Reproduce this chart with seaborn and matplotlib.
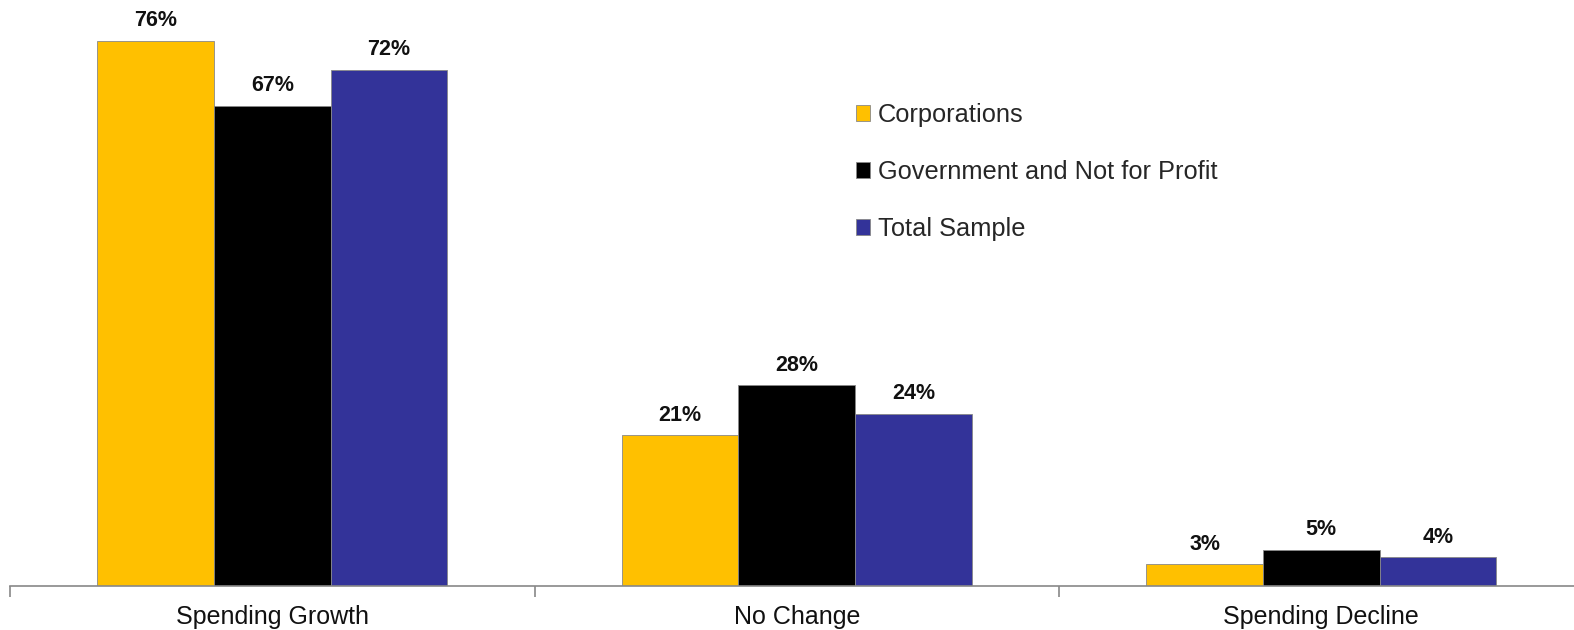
import matplotlib
matplotlib.use("Agg")
import matplotlib.pyplot as plt
import seaborn as sns
import pandas as pd
import numpy as np

categories = ["Spending Growth", "No Change", "Spending Decline"]
series = ["Corporations", "Government and Not for Profit", "Total Sample"]
corporations = [76, 21, 3]
government = [67, 28, 5]
total_sample = [72, 24, 4]
colors = ["#FFC000", "#000000", "#333399"]

rows = []
for s, vals in zip(series, [corporations, government, total_sample]):
    for c, v in zip(categories, vals):
        rows.append({"Category": c, "Series": s, "Value": v})
df = pd.DataFrame(rows)

sns.set_style("white")
plt.rcParams["font.family"] = ["Liberation Sans", "DejaVu Sans"]

fig = plt.figure(figsize=(15.74, 6.30), dpi=100)
ax = fig.add_axes([10 / 1574, 1 - 586 / 630, 1573.5 / 1574, (586 - 12.4) / 630])

sns.barplot(data=df, x="Category", y="Value", hue="Series", order=categories,
            hue_order=series, palette=colors, width=0.667, gap=0, saturation=1,
            edgecolor="#888888", linewidth=0.6, ax=ax, legend=True)

ax.set_ylim(0, 80)
ax.set_xlim(-0.5, 2.5)
ax.set_xlabel("")
ax.set_ylabel("")
ax.set_yticks([])
for sp in ["top", "right", "left"]:
    ax.spines[sp].set_visible(False)
ax.spines["bottom"].set_color("#888888")
ax.spines["bottom"].set_linewidth(1.2)

ax.set_xticks([0, 1, 2])
ax.set_xticklabels(categories, fontsize=18, color="#111111")
ax.set_xticks([-0.5, 0.5, 1.5, 2.5], minor=True)
ax.tick_params(axis="x", which="major", bottom=True, length=0, pad=14)
ax.tick_params(axis="x", which="minor", bottom=True, length=8, width=1.2,
               color="#888888", direction="out")

for cont in ax.containers:
    ax.bar_label(cont, labels=[f"{int(v)}%" for v in cont.datavalues],
                 padding=7, fontsize=15.5, fontweight="bold", color="#111111")

handles, labels = ax.get_legend_handles_labels()
ax.legend(handles, labels, loc="center left", bbox_to_anchor=(856 / 1574, 1 - 172 / 630),
          bbox_transform=fig.transFigure, frameon=False, fontsize=18.3,
          handlelength=0.55, handleheight=0.55, handletextpad=0.3,
          labelspacing=1.3, borderpad=0, borderaxespad=0)

fig.savefig("out.png", dpi=100)
